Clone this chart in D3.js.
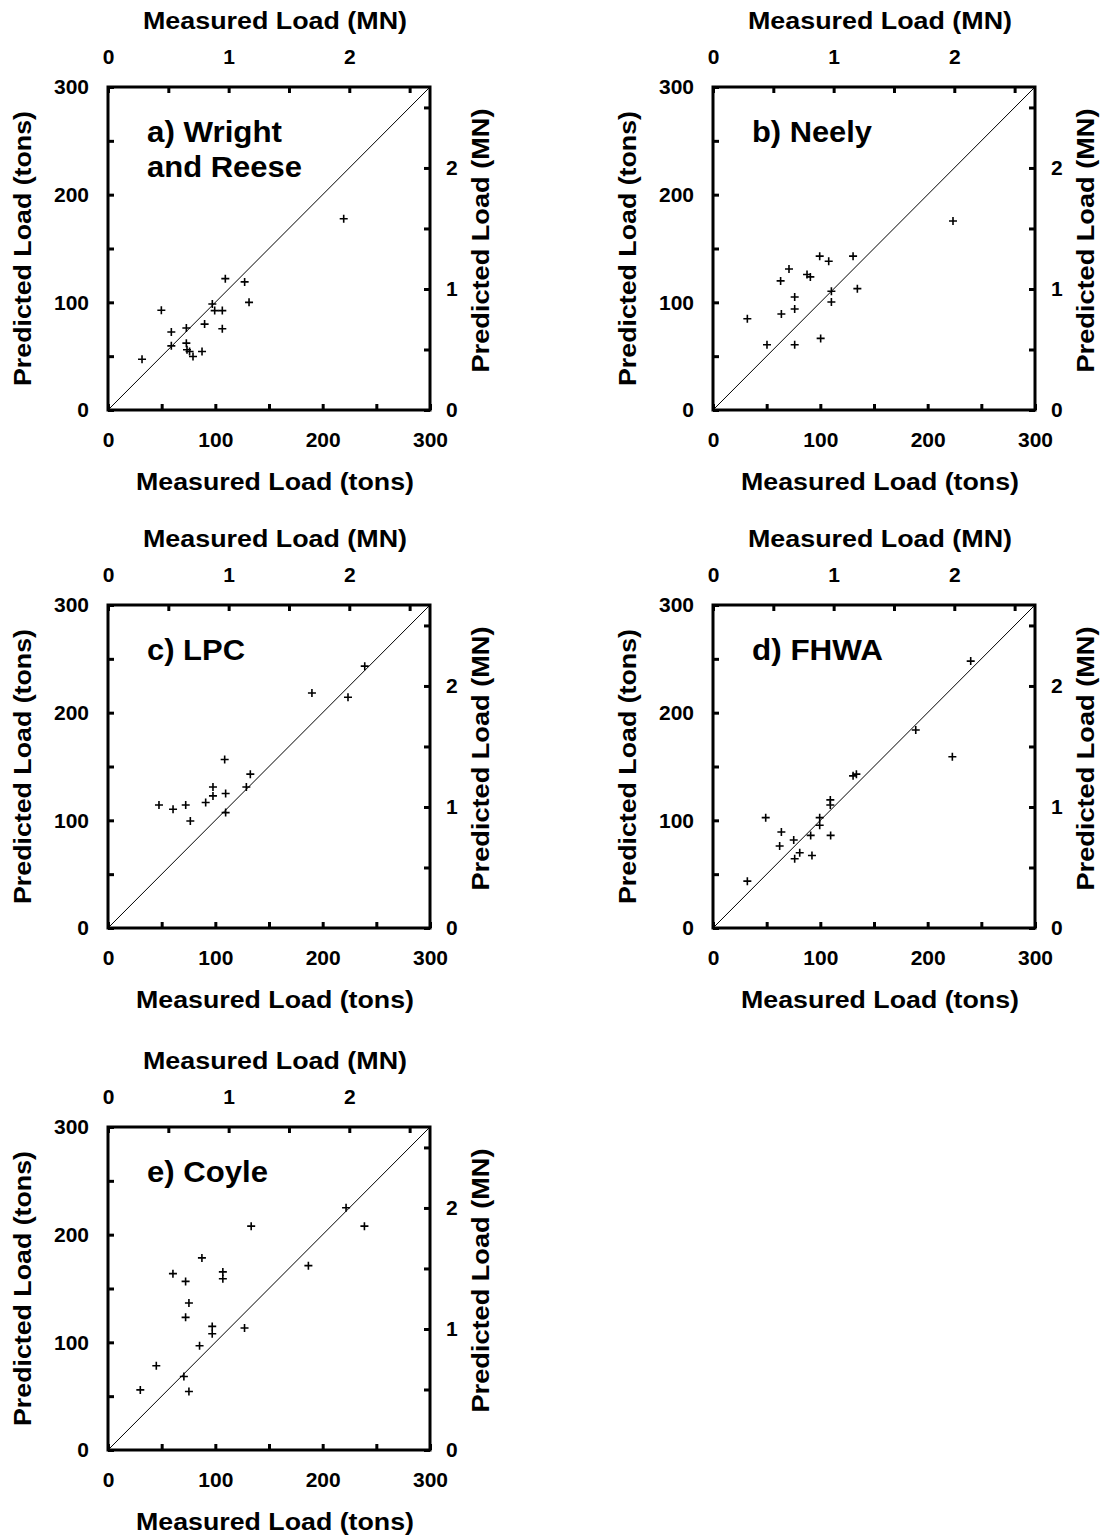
<!DOCTYPE html>
<html>
<head>
<meta charset="utf-8">
<script src="https://cdn.jsdelivr.net/npm/d3@7"></script>
<style>
  html, body { margin: 0; padding: 0; background: #fff; }
  svg { display: block; }
  text { font-family: "Liberation Sans", Arial, Helvetica, sans-serif; font-weight: bold; fill: #000; }
</style>
</head>
<body>
<svg id="chart" width="1107" height="1538"></svg>
<script>
// ---- Data (tons) ----
const tonsPerMN = 112.404; // short tons per meganewton
const tonTicks = [0, 50, 100, 150, 200, 250, 300];
const tonLabels = [0, 100, 200, 300];
const mnTicks = [0, 0.5, 1, 1.5, 2, 2.5];
const mnLabels = [0, 1, 2];

const wrightMeasured  = [31.7, 49.7, 59, 59, 73, 73, 73.6, 76, 79.2, 87.6, 90, 97.2, 99.4, 106.5, 106.5, 109.3, 127.3, 131.4, 219.6];
const wrightPredicted = [47.2, 92.6, 72.4, 59.6, 76.1, 62.1, 55.9, 54.4, 49.7, 54.4, 79.8, 98.5, 92.3, 92.3, 75.5, 122, 119, 100, 177.7];

const neelyMeasured  = [32, 50.3, 63, 63.7, 70.8, 76.1, 76.1, 76.1, 87.6, 90.7, 99.4, 100.3, 107.8, 110.3, 110.3, 130.5, 134.5, 223.6];
const neelyPredicted = [84.8, 60.6, 119.9, 89.1, 131, 105, 93.8, 60.6, 125.8, 123.6, 142.9, 66.5, 138.2, 110.3, 100.3, 142.9, 112.7, 175.5];

const lpcMeasured  = [47.5, 60.6, 72.4, 76.7, 91, 97.8, 97.8, 108.7, 109.6, 109.6, 128.9, 132.6, 190, 223.6, 239.2];
const lpcPredicted = [114.3, 110.3, 114.3, 99.4, 116.5, 131, 122.7, 156.5, 124.9, 107.2, 131, 142.9, 218.3, 214.3, 243.2];

const fhwaMeasured  = [32, 49.1, 62.1, 63.7, 75.2, 76.1, 80.8, 91, 92.2, 99.4, 99.4, 109.3, 109.3, 109.6, 130.5, 133.6, 188.9, 223, 240.1];
const fhwaPredicted = [43.5, 102.5, 76.1, 89.1, 81.7, 64.3, 69.9, 86, 67.4, 102.5, 95.4, 119, 114.3, 86, 141.3, 142.9, 183.9, 159, 247.9];

const coyleMeasured  = [30.1, 45, 60.5, 70.7, 72.3, 72.3, 75.4, 75.4, 85.3, 87.5, 97.1, 97.1, 107, 107, 127.2, 133.4, 186.7, 221.8, 238.9];
const coylePredicted = [55.8, 78.2, 163.8, 68.2, 156.6, 123.2, 136.5, 54.3, 96.8, 178.4, 114.8, 108, 165.4, 159.1, 113.3, 207.9, 171.2, 225, 207.9];

const panelLabels = [["a) Wright", "and Reese"], ["b) Neely"], ["c) LPC"], ["d) FHWA"], ["e) Coyle"]];
const panelMeasured = [wrightMeasured, neelyMeasured, lpcMeasured, fhwaMeasured, coyleMeasured];
const panelPredicted = [wrightPredicted, neelyPredicted, lpcPredicted, fhwaPredicted, coylePredicted];

const xTitleTop = "Measured Load (MN)";
const xTitleBottom = "Measured Load (tons)";
const yTitleLeft = "Predicted Load (tons)";
const yTitleRight = "Predicted Load (MN)";

// ---- Layout ----
const W = 322, H = 323;
const origins = [[108, 87], [713, 87], [108, 605], [713, 605], [108, 1127]];
const labelLengths = [[135, 155], [120], [98], [131], [121]];

const svg = d3.select("#chart");

const x = d3.scaleLinear().domain([0, 300]).range([0, W]);
const y = d3.scaleLinear().domain([0, 300]).range([H, 0]);
const xMN = d3.scaleLinear().domain([0, 300 / tonsPerMN]).range([0, W]);
const yMN = d3.scaleLinear().domain([0, 300 / tonsPerMN]).range([H, 0]);

const fmtTon = d => tonLabels.includes(d) ? d : "";
const fmtMN = d => mnLabels.includes(d) ? d : "";

function styleAxis(g) {
  g.select(".domain").remove();
  g.selectAll(".tick line").attr("stroke", "#000").attr("stroke-width", 3);
  g.selectAll(".tick text")
    .style("font-family", '"Liberation Sans", Arial, sans-serif')
    .style("font-weight", "bold")
    .style("font-size", "21px")
    .attr("fill", "#000");
}

panelLabels.forEach((lab, i) => {
  const [ox, oy] = origins[i];
  const g = svg.append("g").attr("transform", `translate(${ox},${oy})`);
  const meas = panelMeasured[i], pred = panelPredicted[i];

  // axes
  g.append("g").attr("transform", `translate(0,${H})`)
    .call(d3.axisBottom(x).tickValues(tonTicks).tickSize(-6).tickPadding(22).tickFormat(fmtTon))
    .call(styleAxis);
  g.append("g")
    .call(d3.axisTop(xMN).tickValues(mnTicks).tickSize(-6).tickPadding(23).tickFormat(fmtMN))
    .call(styleAxis);
  g.append("g")
    .call(d3.axisLeft(y).tickValues(tonTicks).tickSize(-6).tickPadding(19).tickFormat(fmtTon))
    .call(styleAxis);
  g.append("g").attr("transform", `translate(${W},0)`)
    .call(d3.axisRight(yMN).tickValues(mnTicks).tickSize(-6).tickPadding(16).tickFormat(fmtMN))
    .call(styleAxis);

  // 1:1 line
  g.append("line")
    .attr("x1", x(0)).attr("y1", y(0)).attr("x2", x(300)).attr("y2", y(300))
    .attr("stroke", "#000").attr("stroke-width", 1);

  // frame
  g.append("rect").attr("x", 0).attr("y", 0).attr("width", W).attr("height", H)
    .attr("fill", "none").attr("stroke", "#000").attr("stroke-width", 3);

  // points (crosses)
  const pts = meas.map((m, k) => [m, pred[k]]);
  g.selectAll("path.pt").data(pts).enter().append("path")
    .attr("class", "pt")
    .attr("d", d => `M${x(d[0]) - 4},${y(d[1])}h8M${x(d[0])},${y(d[1]) - 4}v8`)
    .attr("stroke", "#000").attr("stroke-width", 1.6).attr("fill", "none");

  // panel label
  lab.forEach((line, li) => {
    g.append("text")
      .attr("x", 39).attr("y", 55 + li * 35)
      .attr("textLength", labelLengths[i][li])
      .attr("lengthAdjust", "spacingAndGlyphs")
      .style("font-size", "29px")
      .text(line);
  });

  // axis titles
  g.append("text").attr("x", W / 2 + 6).attr("y", -58)
    .attr("text-anchor", "middle").style("font-size", "23px")
    .attr("textLength", 264).attr("lengthAdjust", "spacingAndGlyphs")
    .text(xTitleTop);
  g.append("text").attr("x", W / 2 + 6).attr("y", H + 80)
    .attr("text-anchor", "middle").style("font-size", "23px")
    .attr("textLength", 278).attr("lengthAdjust", "spacingAndGlyphs")
    .text(xTitleBottom);
  g.append("text")
    .attr("transform", `translate(-77,${H / 2}) rotate(-90)`)
    .attr("text-anchor", "middle").style("font-size", "23px")
    .attr("textLength", 275).attr("lengthAdjust", "spacingAndGlyphs")
    .text(yTitleLeft);
  g.append("text")
    .attr("transform", `translate(${W + 59},${H / 2 - 8}) rotate(-90)`)
    .attr("text-anchor", "middle").style("font-size", "23px")
    .attr("textLength", 264).attr("lengthAdjust", "spacingAndGlyphs")
    .text(yTitleRight);
});
</script>
</body>
</html>
